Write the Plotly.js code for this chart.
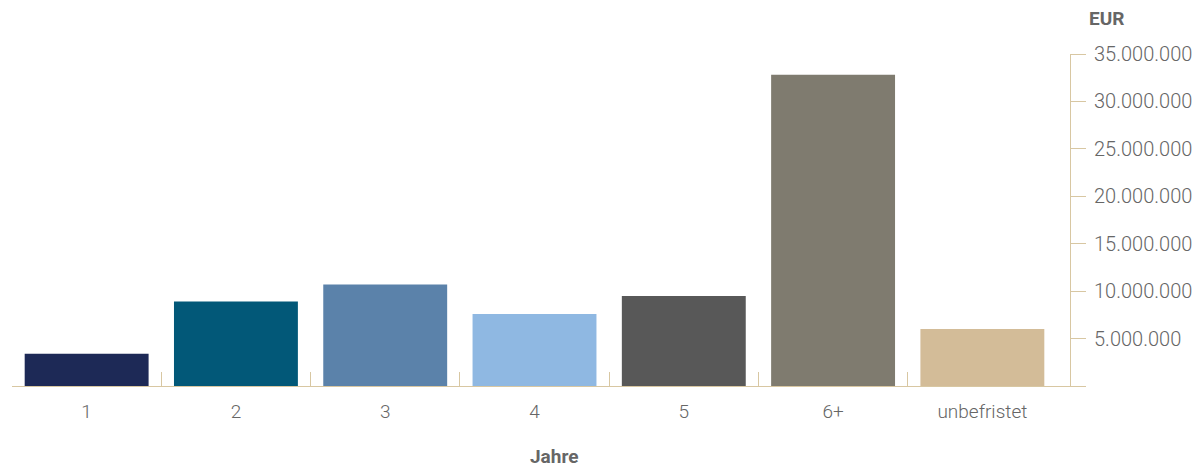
<!DOCTYPE html>
<html>
<head>
<meta charset="utf-8">
<script src="https://cdn.plot.ly/plotly-3.0.1.min.js"></script>
<style>
  html, body { margin: 0; padding: 0; background: #ffffff; }
  #chart { width: 1201px; height: 470px; }
</style>
</head>
<body>
<div id="chart"></div>
<script>
// Laufzeiten (Jahre) und Volumen in EUR
const categories = ['1', '2', '3', '4', '5', '6+', 'unbefristet'];
const volumes = [3400000, 8900000, 10700000, 7600000, 9500000, 32800000, 6000000];
const barColors = ['#1d2956', '#025878', '#5b82aa', '#8fb8e2', '#585858', '#7f7b6f', '#d3bc98'];

const yTickVals = [0, 5000000, 10000000, 15000000, 20000000, 25000000, 30000000, 35000000];
const yTickText = ['', '5.000.000', '10.000.000', '15.000.000', '20.000.000', '25.000.000', '30.000.000', '35.000.000'];

// category boundaries for the small separator ticks along the baseline
const boundaryTicks = [-0.5, 0.5, 1.5, 2.5, 3.5, 4.5, 5.5];

const axisColor = '#d8c7a2';
const textColor = '#666666';
const xRange = [-0.5, 6.587];

const traces = [
  {
    type: 'bar',
    x: categories,
    y: volumes,
    marker: { color: barColors },
    width: 0.83,
    hoverinfo: 'x+y'
  },
  {
    type: 'scatter',
    mode: 'markers',
    x: [],
    y: [],
    xaxis: 'x2',
    showlegend: false,
    hoverinfo: 'skip'
  }
];

const layout = {
  width: 1201,
  height: 470,
  margin: { l: 12, r: 131, t: 54, b: 84 },
  paper_bgcolor: '#ffffff',
  plot_bgcolor: '#ffffff',
  showlegend: false,
  bargap: 0.17,
  font: { family: 'Roboto, sans-serif', color: textColor },
  xaxis: {
    type: 'category',
    range: xRange,
    showgrid: false,
    zeroline: false,
    showline: true,
    linecolor: axisColor,
    linewidth: 1,
    ticks: '',
    ticklabelstandoff: 8,
    tickfont: { family: 'Roboto, sans-serif', size: 19, color: textColor, weight: 300 }
  },
  xaxis2: {
    type: 'linear',
    overlaying: 'x',
    anchor: 'y',
    side: 'bottom',
    range: xRange,
    tickmode: 'array',
    tickvals: boundaryTicks,
    ticks: 'inside',
    ticklen: 14,
    tickwidth: 1,
    tickcolor: axisColor,
    showticklabels: false,
    showgrid: false,
    zeroline: false,
    showline: false
  },
  yaxis: {
    side: 'right',
    range: [0, 35000000],
    showgrid: false,
    zeroline: false,
    showline: true,
    linecolor: axisColor,
    linewidth: 1,
    ticks: 'outside',
    ticklen: 15,
    tickwidth: 1,
    tickcolor: axisColor,
    tickmode: 'array',
    tickvals: yTickVals,
    ticktext: yTickText,
    ticklabelstandoff: 4,
    tickfont: { family: 'Roboto, sans-serif', size: 20, color: textColor, weight: 300 }
  },
  annotations: [
    {
      text: 'EUR',
      xref: 'paper', yref: 'paper',
      x: 1.0163, y: 1.0,
      xanchor: 'left', yanchor: 'middle',
      yshift: 36,
      showarrow: false,
      font: { family: 'Roboto, sans-serif', size: 19, color: textColor, weight: 700 }
    },
    {
      text: 'Jahre',
      xref: 'paper', yref: 'paper',
      x: 0.5127, y: 0,
      xanchor: 'center', yanchor: 'middle',
      yshift: -70,
      showarrow: false,
      font: { family: 'Roboto, sans-serif', size: 19, color: textColor, weight: 700 }
    }
  ]
};

Plotly.newPlot('chart', traces, layout, { displayModeBar: false, staticPlot: true });
</script>
</body>
</html>
